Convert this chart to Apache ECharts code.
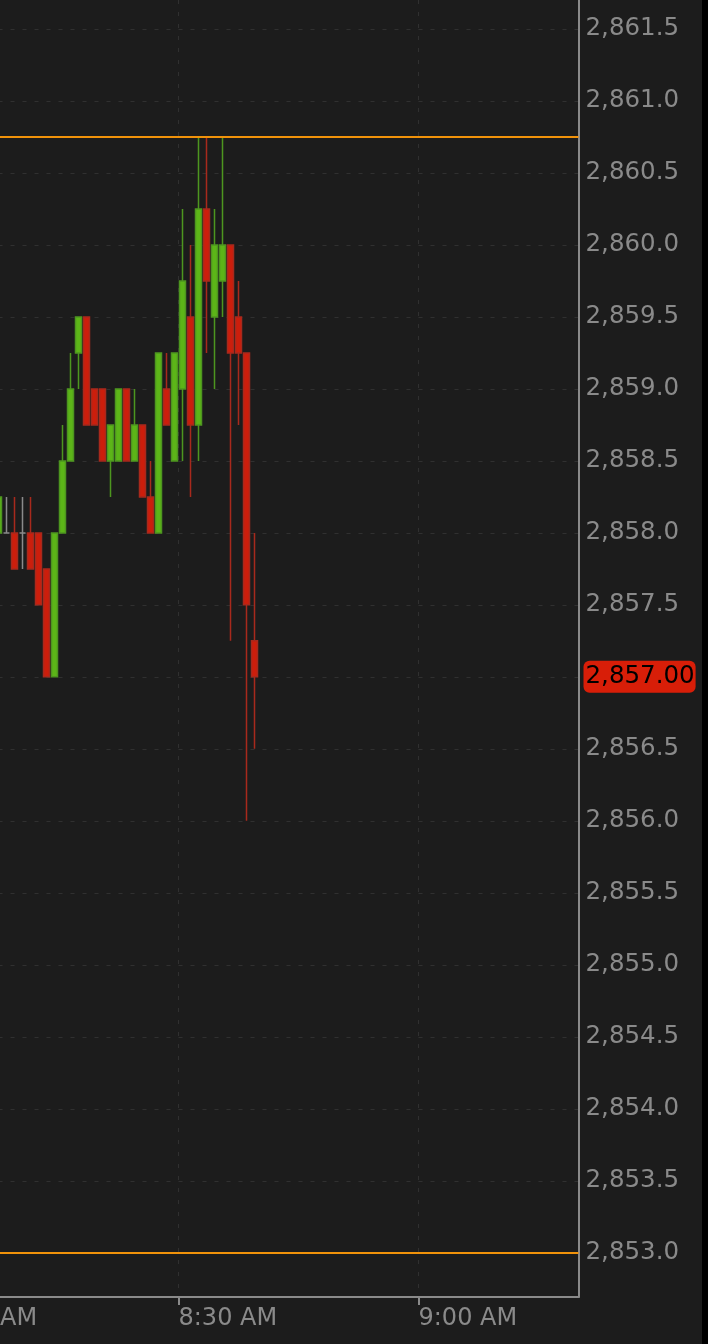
<!DOCTYPE html>
<html>
<head>
<meta charset="utf-8">
<script src="https://cdn.jsdelivr.net/npm/echarts@6/dist/echarts.min.js"></script>
<style>
  html, body { margin: 0; padding: 0; background: #000; }
  #chart { width: 702px; height: 1344px; background: #1c1c1c; }
</style>
</head>
<body>
<div id="chart"></div>
<script>
// 1-minute bars
const times = ['8:07','8:08','8:09','8:10','8:11','8:12','8:13','8:14','8:15','8:16','8:17',
  '8:18','8:19','8:20','8:21','8:22','8:23','8:24','8:25','8:26','8:27','8:28','8:29',
  '8:30','8:31','8:32','8:33','8:34','8:35','8:36','8:37','8:38','8:39'];
const open  = [2858.0, 2858.0, 2858.0, 2858.0, 2858.0, 2858.0, 2857.75, 2857.0, 2858.0, 2858.5, 2859.25,
  2859.5, 2859.0, 2859.0, 2858.5, 2858.5, 2859.0, 2858.5, 2858.75, 2858.25, 2858.0, 2859.0, 2858.5,
  2859.0, 2859.5, 2858.75, 2860.25, 2859.5, 2859.75, 2860.0, 2859.5, 2859.25, 2857.25];
const close = [2858.25, 2858.0, 2857.75, 2858.0, 2857.75, 2857.5, 2857.0, 2858.0, 2858.5, 2859.0, 2859.5,
  2858.75, 2858.75, 2858.5, 2858.75, 2859.0, 2858.5, 2858.75, 2858.25, 2858.0, 2859.25, 2858.75, 2859.25,
  2859.75, 2858.75, 2860.25, 2859.75, 2860.0, 2860.0, 2859.25, 2859.25, 2857.5, 2857.0];
const low   = [2858.0, 2858.0, 2857.75, 2857.75, 2857.75, 2857.5, 2857.0, 2857.0, 2858.0, 2858.5, 2859.0,
  2858.75, 2858.75, 2858.5, 2858.25, 2858.5, 2858.5, 2858.5, 2858.25, 2858.0, 2858.0, 2858.75, 2858.5,
  2858.5, 2858.25, 2858.5, 2859.25, 2859.0, 2859.5, 2857.25, 2858.75, 2856.0, 2856.5];
const high  = [2858.25, 2858.25, 2858.25, 2858.25, 2858.25, 2858.0, 2857.75, 2858.0, 2858.75, 2859.25, 2859.5,
  2859.5, 2859.0, 2859.0, 2858.75, 2859.0, 2859.0, 2859.0, 2858.75, 2858.5, 2859.25, 2859.25, 2859.25,
  2860.25, 2860.0, 2860.75, 2860.75, 2860.25, 2860.75, 2860.0, 2859.75, 2859.25, 2858.0];

const yTicks = [2853.0, 2853.5, 2854.0, 2854.5, 2855.0, 2855.5, 2856.0, 2856.5, 2857.0,
  2857.5, 2858.0, 2858.5, 2859.0, 2859.5, 2860.0, 2860.5, 2861.0, 2861.5];
const xTickLabels = ['8:00', '8:30', '9:00'];
const levels = [2860.75, 2853.0];   // orange reference lines
const lastPrice = 2857.0;

const toMin = s => { const [h, m] = s.split(':').map(Number); return h * 60 + m; };
const fmt = (v, d) => {
  const [i, f] = Number(v).toFixed(d).split('.');
  return i.replace(/\B(?=(\d{3})+(?!\d))/g, ',') + '.' + f;
};
const fmtTime = m => {
  const h = Math.floor(m / 60), mm = m % 60;
  const hh = ((h + 11) % 12) + 1;
  return hh + ':' + String(mm).padStart(2, '0') + ' ' + (h < 12 ? 'AM' : 'PM');
};

// each bar centred in its one-minute period
const candles = times.map((t, i) => [toMin(t) + 0.5, open[i], close[i], low[i], high[i]]);
const xTicks = xTickLabels.map(toMin);

const FONT = 'DejaVu Sans';
const chart = echarts.init(document.getElementById('chart'), null, { renderer: 'canvas' });
chart.setOption({
  animation: false,
  backgroundColor: '#1c1c1c',
  grid: { left: -61.5, top: 0, width: 640, height: 1297, containLabel: false, outerBoundsMode: 'none' },
  xAxis: {
    type: 'value',
    min: toMin('8:00'),
    max: toMin('9:20'),
    axisLine: { show: true, lineStyle: { color: '#8a8a8a', width: 2 } },
    axisTick: { show: true, customValues: xTicks, length: 8, lineStyle: { color: '#8a8a8a', width: 2 } },
    axisLabel: {
      customValues: xTicks,
      formatter: v => fmtTime(v),
      color: '#8a8a8a', fontFamily: FONT, fontSize: 24,
      align: 'left', margin: 10
    },
    splitLine: { show: true, lineStyle: { color: '#303030', width: 1, type: [4, 8] } }
  },
  yAxis: {
    type: 'value',
    position: 'right',
    min: 2852.693,
    max: 2861.701,
    axisLine: { show: true, lineStyle: { color: '#8a8a8a', width: 2 } },
    axisTick: { show: false, customValues: yTicks },
    axisLabel: {
      customValues: yTicks,
      formatter: v => fmt(v, 1),
      color: '#8a8a8a', fontFamily: FONT, fontSize: 24.5, margin: 7
    },
    splitLine: { show: true, lineStyle: { color: '#303030', width: 1, type: [4, 8] } }
  },
  series: [{
    type: 'candlestick',
    data: candles,
    barWidth: 6,
    itemStyle: {
      color: '#5cb518',
      color0: '#cc1e0c',
      borderColor: '#4d961f',
      borderColor0: '#a8291c',
      borderColorDoji: '#8a8a8a',
      borderWidth: 1.5
    },
    markLine: {
      silent: true,
      symbol: ['none', 'none'],
      animation: false,
      data: [
        ...levels.map(v => ({
          yAxis: v,
          lineStyle: { color: '#f0920a', width: 2, type: 'solid' },
          label: { show: false }
        })),
        {
          yAxis: lastPrice,
          lineStyle: { color: 'rgba(0,0,0,0)', width: 1, type: 'solid' },
          label: {
            show: true,
            position: 'end',
            distance: 5,
            formatter: () => fmt(lastPrice, 2),
            color: '#000',
            fontFamily: FONT,
            fontSize: 24.5,
            lineHeight: 25,
            backgroundColor: '#d81e08',
            borderRadius: 6,
            padding: [4, 1, 3, 2]
          }
        }
      ]
    }
  }]
});
</script>
</body>
</html>
